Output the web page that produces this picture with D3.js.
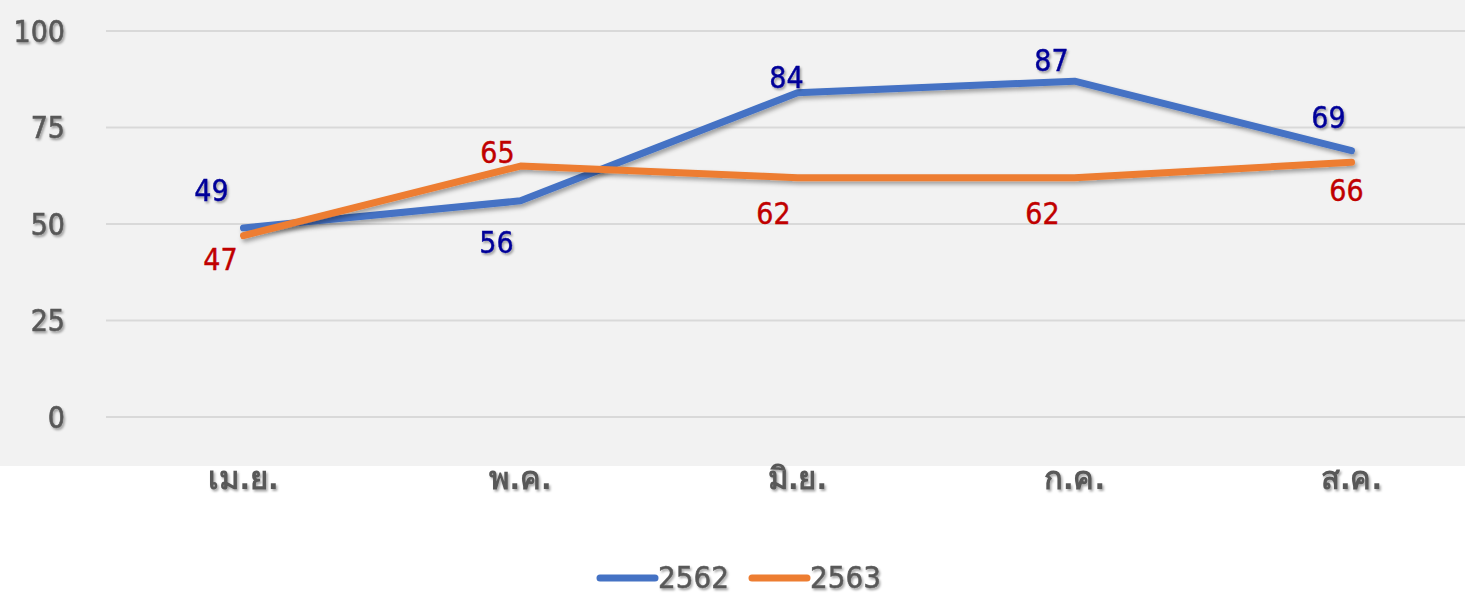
<!DOCTYPE html>
<html>
<head>
<meta charset="utf-8">
<script src="https://cdn.jsdelivr.net/npm/d3@7"></script>
<style>
  body { margin: 0; background: #fff; }
  svg { display: block; }
</style>
</head>
<body>
<div id="chart"></div>
<script>
var months = ['เม.ย.', 'พ.ค.', 'มิ.ย.', 'ก.ค.', 'ส.ค.'];
var years = ['2562', '2563'];
var values2562 = [49, 56, 84, 87, 69];
var values2563 = [47, 65, 62, 62, 66];
var yTicks = [0, 25, 50, 75, 100];

// label placement (dx, dy from the point), set by hand like in the original
var labelOffsets2562 = [[-32, -38], [-24, 41], [-11, -16], [-23, -21], [-23, -33]];
var labelOffsets2563 = [[-23, 24], [-23, -14], [-24, 36], [-32, 36], [-5, 28]];

var width = 1465, height = 595;
var plotBg = {top: 0, bottom: 466};
var gridLeft = 106;

var svg = d3.select('#chart').append('svg')
    .attr('width', width)
    .attr('height', height);

var defs = svg.append('defs');
var shadow = defs.append('filter').attr('id', 'shadow')
    .attr('x', '-20%').attr('y', '-50%').attr('width', '140%').attr('height', '200%');
shadow.append('feDropShadow')
    .attr('dx', 2).attr('dy', 3).attr('stdDeviation', 2)
    .attr('flood-color', '#000').attr('flood-opacity', 0.35);
var tshadow = defs.append('filter').attr('id', 'tshadow')
    .attr('x', '-20%').attr('y', '-30%').attr('width', '140%').attr('height', '160%');
tshadow.append('feDropShadow')
    .attr('dx', 1.5).attr('dy', 2).attr('stdDeviation', 1.2)
    .attr('flood-color', '#000').attr('flood-opacity', 0.35);

svg.append('rect')
    .attr('x', 0).attr('y', plotBg.top)
    .attr('width', width).attr('height', plotBg.bottom - plotBg.top)
    .attr('fill', '#f2f2f2');

var x = d3.scaleBand().domain(months).range([105, 1490]);
var y = d3.scaleLinear().domain([0, 100]).range([417, 31]);

// gridlines
svg.append('g').selectAll('line')
    .data(yTicks)
    .enter().append('line')
    .attr('x1', gridLeft).attr('x2', width)
    .attr('y1', function (d) { return y(d); })
    .attr('y2', function (d) { return y(d); })
    .attr('stroke', '#d9d9d9')
    .attr('stroke-width', 2);

var font = '"DejaVu Sans Condensed", "DejaVu Sans", Tahoma, sans-serif';

// y axis labels
svg.append('g').selectAll('text')
    .data(yTicks)
    .enter().append('text')
    .attr('x', 65)
    .attr('y', function (d) { return y(d); })
    .attr('dy', '0.36em')
    .attr('text-anchor', 'end')
    .attr('font-family', font)
    .attr('font-size', 30)
    .attr('fill', '#595959')
    .attr('stroke', '#595959')
    .attr('stroke-width', 0.6)
    .attr('filter', 'url(#tshadow)')
    .text(function (d) { return d; });

// x axis labels
svg.append('g').selectAll('text')
    .data(months)
    .enter().append('text')
    .attr('x', function (d) { return x(d) + x.bandwidth() / 2; })
    .attr('y', 489)
    .attr('text-anchor', 'middle')
    .attr('font-family', font)
    .attr('font-size', 31)
    .attr('font-weight', 'bold')
    .attr('fill', '#595959')
    .attr('filter', 'url(#tshadow)')
    .text(function (d) { return d; });

var series = [
    {name: years[0], values: values2562, color: '#4472c4', labelColor: '#000099', offsets: labelOffsets2562},
    {name: years[1], values: values2563, color: '#ed7d31', labelColor: '#c00000', offsets: labelOffsets2563}
];

var line = d3.line()
    .x(function (d, i) { return x(months[i]) + x.bandwidth() / 2; })
    .y(function (d) { return y(d); });

series.forEach(function (s) {
    svg.append('path')
        .datum(s.values)
        .attr('d', line)
        .attr('fill', 'none')
        .attr('stroke', s.color)
        .attr('stroke-width', 7)
        .attr('stroke-linejoin', 'round')
        .attr('stroke-linecap', 'round')
        .attr('filter', 'url(#shadow)');
});

series.forEach(function (s) {
    svg.append('g').selectAll('text')
        .data(s.values)
        .enter().append('text')
        .attr('x', function (d, i) { return x(months[i]) + x.bandwidth() / 2 + s.offsets[i][0]; })
        .attr('y', function (d, i) { return y(d) + s.offsets[i][1]; })
        .attr('dy', '0.36em')
        .attr('text-anchor', 'middle')
        .attr('font-family', font)
        .attr('font-size', 30)
        .attr('fill', s.labelColor)
        .attr('stroke', s.labelColor)
        .attr('stroke-width', 0.4)
        .attr('filter', s.name === '2562' ? 'url(#tshadow)' : null)
        .text(function (d) { return d; });
});

// legend
var legend = svg.append('g');
var legendX = [600, 752];
series.forEach(function (s, i) {
    legend.append('line')
        .attr('x1', legendX[i]).attr('x2', legendX[i] + 55)
        .attr('y1', 578).attr('y2', 578)
        .attr('stroke', s.color)
        .attr('stroke-width', 7)
        .attr('stroke-linecap', 'round');
    legend.append('text')
        .attr('x', legendX[i] + 58)
        .attr('y', 577)
        .attr('dy', '0.36em')
        .attr('font-family', font)
        .attr('font-size', 31)
        .attr('fill', '#595959')
        .attr('stroke', '#595959')
        .attr('stroke-width', 0.5)
        .attr('filter', 'url(#tshadow)')
        .text(s.name);
});
</script>
</body>
</html>
